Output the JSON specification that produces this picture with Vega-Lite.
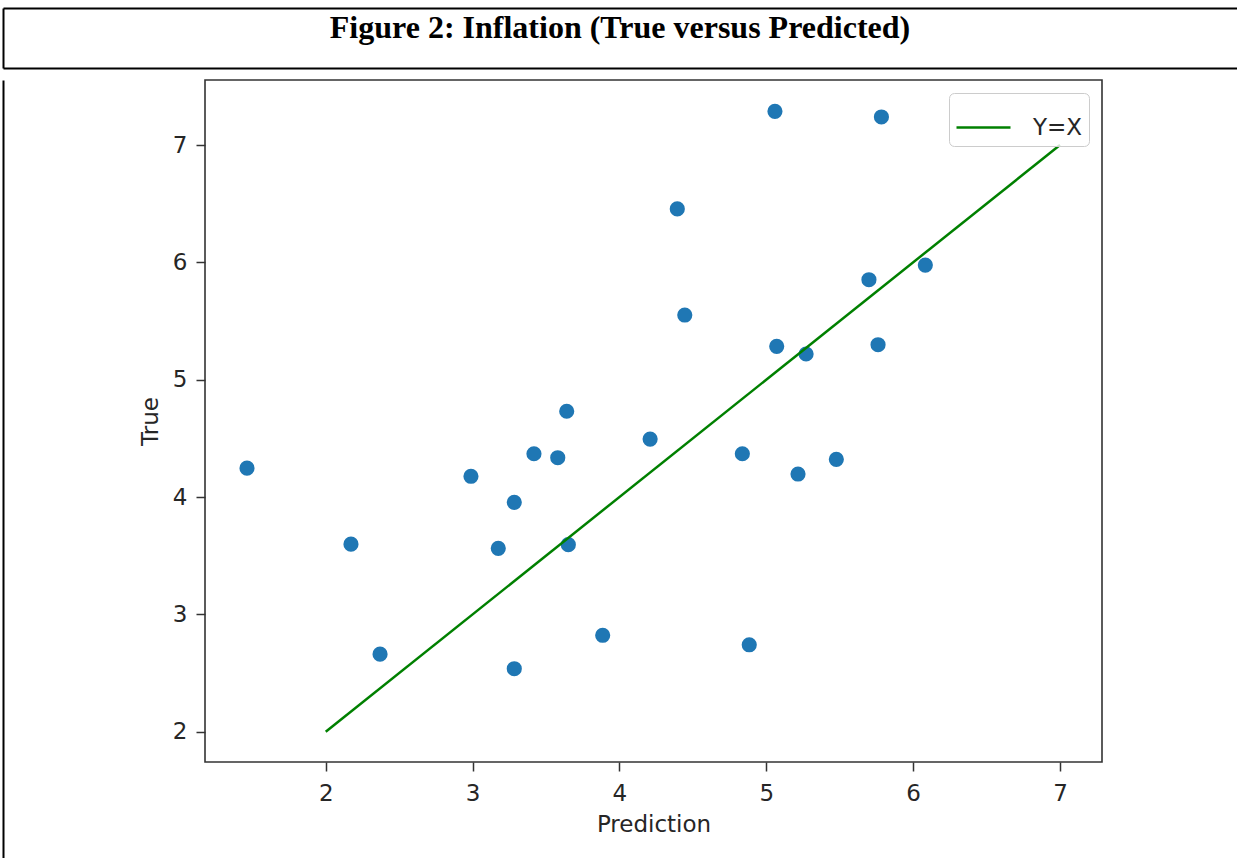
{
  "$schema": "https://vega.github.io/schema/vega-lite/v6.json",
  "padding": {"left": 3, "top": 8, "right": 0, "bottom": 0},
  "background": "white",
  "datasets": {
    "title": [{"t": "Figure 2: Inflation (True versus Predicted)"}],
    "border": [{"v": 0}],
    "points": [
      {"prediction": 1.464, "true_value": 4.246},
      {"prediction": 2.172, "true_value": 3.598},
      {"prediction": 2.370, "true_value": 2.661},
      {"prediction": 2.989, "true_value": 4.177},
      {"prediction": 3.175, "true_value": 3.563},
      {"prediction": 3.284, "true_value": 3.955},
      {"prediction": 3.284, "true_value": 2.537},
      {"prediction": 3.418, "true_value": 4.369},
      {"prediction": 3.580, "true_value": 4.335},
      {"prediction": 3.641, "true_value": 4.731},
      {"prediction": 3.652, "true_value": 3.594},
      {"prediction": 3.886, "true_value": 2.822},
      {"prediction": 4.209, "true_value": 4.494},
      {"prediction": 4.394, "true_value": 6.455},
      {"prediction": 4.445, "true_value": 5.551},
      {"prediction": 4.837, "true_value": 4.369},
      {"prediction": 4.884, "true_value": 2.741},
      {"prediction": 5.059, "true_value": 7.287},
      {"prediction": 5.071, "true_value": 5.284},
      {"prediction": 5.216, "true_value": 4.196},
      {"prediction": 5.271, "true_value": 5.219},
      {"prediction": 5.477, "true_value": 4.321},
      {"prediction": 5.699, "true_value": 5.852},
      {"prediction": 5.761, "true_value": 5.298},
      {"prediction": 5.784, "true_value": 7.239},
      {"prediction": 6.083, "true_value": 5.977}
    ],
    "line": [
      {"prediction": 2, "true_value": 2},
      {"prediction": 7, "true_value": 7}
    ]
  },
  "spacing": 12,
  "bounds": "flush",
  "resolve": {"legend": {"color": "independent"}, "scale": {"color": "independent"}},
  "vconcat": [
    {
      "width": 1234,
      "height": 60,
      "data": {"name": "title"},
      "layer": [
        {
          "mark": {"type": "text", "font": "Liberation Serif", "fontWeight": "bold", "fontSize": 32, "baseline": "alphabetic", "align": "center", "color": "black"},
          "encoding": {
            "text": {"field": "t", "type": "nominal"},
            "x": {"datum": 0, "type": "quantitative", "scale": {"domain": [-1, 1]},
                  "axis": {"orient": "top", "domain": true, "domainColor": "black", "domainWidth": 2, "labels": false, "ticks": false, "grid": false, "title": null}},
            "y": {"datum": 0, "type": "quantitative", "scale": {"domain": [-1, 1]},
                  "axis": {"orient": "left", "domain": true, "domainColor": "black", "domainWidth": 2, "labels": false, "ticks": false, "grid": false, "title": null}}
          }
        },
        {
          "mark": {"type": "text", "text": ""},
          "encoding": {
            "x": {"datum": 0, "type": "quantitative",
                  "axis": {"orient": "bottom", "domain": true, "domainColor": "black", "domainWidth": 2, "labels": false, "ticks": false, "grid": false, "title": null}}
          }
        }
      ],
      "resolve": {"axis": {"x": "independent"}}
    },
    {
      "spacing": 0,
      "bounds": "flush",
      "resolve": {"legend": {"color": "independent"}, "scale": {"color": "independent"}},
      "hconcat": [
        {
          "width": 202,
          "height": 778,
          "data": {"name": "border"},
          "mark": {"type": "text", "text": ""},
          "encoding": {
            "y": {"datum": 0, "type": "quantitative",
                  "axis": {"orient": "left", "domain": true, "domainColor": "black", "domainWidth": 2, "labels": false, "ticks": false, "grid": false, "title": null}}
          }
        },
        {
          "width": 897,
          "height": 682,
          "view": {"stroke": "#333333", "strokeWidth": 1.6},
          "layer": [
            {
              "data": {"name": "points"},
              "mark": {"type": "circle", "size": 230, "color": "#1f77b4", "opacity": 1},
              "encoding": {
                "x": {"field": "prediction", "type": "quantitative",
                      "scale": {"domain": [1.178, 7.286], "nice": false, "zero": false},
                      "axis": {"title": "Prediction", "values": [2, 3, 4, 5, 6, 7], "format": "d"}},
                "y": {"field": "true_value", "type": "quantitative",
                      "scale": {"domain": [1.742, 7.554], "nice": false, "zero": false},
                      "axis": {"title": "True", "values": [2, 3, 4, 5, 6, 7], "format": "d"}}
              }
            },
            {
              "data": {"name": "line"},
              "mark": {"type": "line", "strokeWidth": 2.5},
              "encoding": {
                "x": {"field": "prediction", "type": "quantitative"},
                "y": {"field": "true_value", "type": "quantitative"},
                "color": {"datum": "Y=X", "type": "nominal", "scale": {"range": ["#008000"]},
                          "legend": {"orient": "top-right", "offset": 13, "title": null, "symbolType": "stroke", "symbolSize": 2916, "symbolStrokeWidth": 2.5,
                                     "labelFontSize": 23, "labelFont": "DejaVu Sans", "labelColor": "#262626", "strokeColor": "#cccccc",
                                     "fillColor": "rgba(255,255,255,0.8)", "cornerRadius": 5, "padding": 6, "labelOffset": 21}}
              }
            }
          ]
        }
      ]
    }
  ],
  "config": {
    "font": "DejaVu Sans",
    "view": {"stroke": null},
    "axis": {
      "domain": false,
      "grid": false,
      "tickSize": 9,
      "tickWidth": 1.5,
      "tickColor": "#333333",
      "labelFont": "DejaVu Sans",
      "labelFontSize": 23,
      "labelColor": "#262626",
      "titleFont": "DejaVu Sans",
      "titleFontSize": 23,
      "titleFontWeight": "normal",
      "titleColor": "#262626"
    },
    "axisX": {"labelPadding": 11, "titlePadding": 8},
    "axisY": {"labelPadding": 9, "titlePadding": 10}
  }
}
